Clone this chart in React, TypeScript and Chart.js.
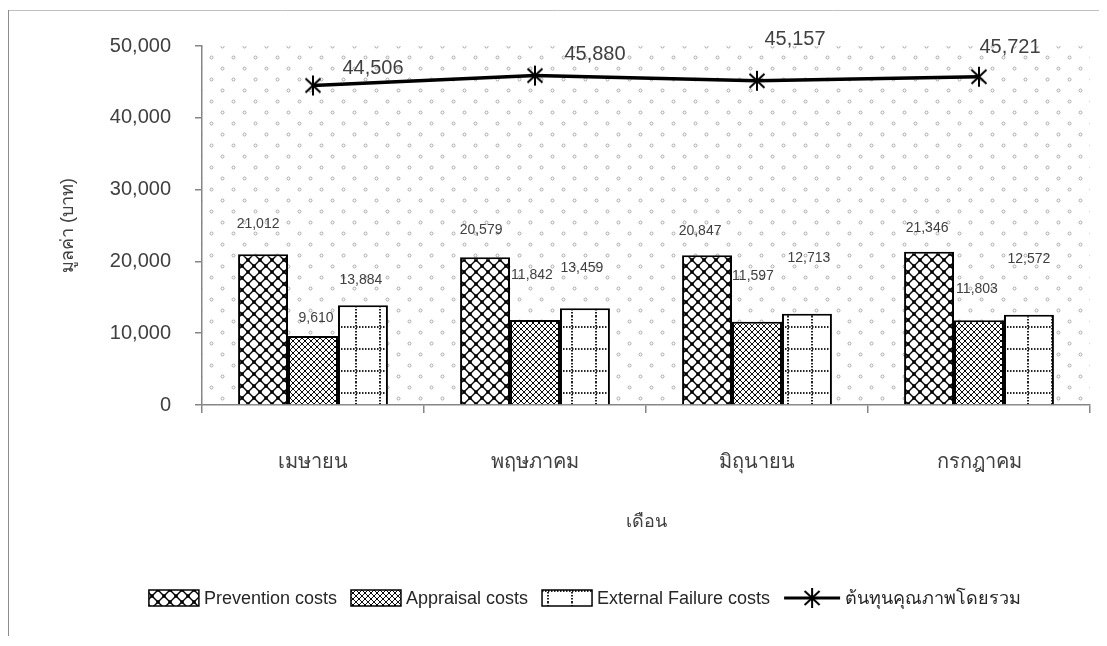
import { useEffect, useRef } from "react";
import { Chart, registerables } from "chart.js";

Chart.register(...registerables);

// Monthly quality costs (บาท)
const months = ["เมษายน", "พฤษภาคม", "มิถุนายน", "กรกฎาคม"];
const preventionCosts = [21012, 20579, 20847, 21346];
const appraisalCosts = [9610, 11842, 11597, 11803];
const externalFailureCosts = [13884, 13459, 12713, 12572];
const totalQualityCost = [44506, 45880, 45157, 45721];
const seriesNames = [
  "Prevention costs",
  "Appraisal costs",
  "External Failure costs",
  "ต้นทุนคุณภาพโดยรวม",
];
const yTicks = [0, 10000, 20000, 30000, 40000, 50000];
const xTitle = "เดือน";
const yTitle = "มูลค่า (บาท)";

// Hand-placed label nudges: [dx, lift] for bar labels, [dx, dy] for line labels
const barLabelNudge = [
  [[-5, 30], [-4, 27], [-7, 24], [-2, 24]],
  [[3, 18], [-3, 45], [-4, 46], [-2, 31]],
  [[-2, 25], [-3, 40], [2, 56], [0, 56]],
];
const lineLabelNudge = [[60, -17], [60, -21], [38, -41], [31, -29]];

const FONT = "'Liberation Sans', Arial, sans-serif";
const TEXT = "#404040";
const AXIS = "#868686";

function tile(w: number, h: number, draw: (g: CanvasRenderingContext2D) => void, bg = "#ffffff") {
  const c = document.createElement("canvas");
  c.width = w;
  c.height = h;
  const g = c.getContext("2d")!;
  if (bg) {
    g.fillStyle = bg;
    g.fillRect(0, 0, w, h);
  }
  draw(g);
  return c;
}

// Large diamond lattice with dots on the crossings
const latticeTile = () =>
  tile(12, 12, (g) => {
    g.strokeStyle = "#000";
    g.lineWidth = 1.4;
    g.beginPath();
    g.moveTo(0, 0);
    g.lineTo(12, 12);
    g.moveTo(12, 0);
    g.lineTo(0, 12);
    g.stroke();
    g.fillStyle = "#000";
    g.fillRect(4.3, 4.3, 3.4, 3.4);
    for (const [x, y] of [[0, 0], [12, 0], [0, 12], [12, 12]]) g.fillRect(x - 1.7, y - 1.7, 3.4, 3.4);
  });

// Fine diagonal check
const checkTile = () =>
  tile(6, 6, (g) => {
    g.strokeStyle = "#111";
    g.lineWidth = 1;
    g.beginPath();
    g.moveTo(0, 0);
    g.lineTo(6, 6);
    g.moveTo(6, 0);
    g.lineTo(0, 6);
    g.stroke();
    g.fillStyle = "#000";
    g.fillRect(2.2, 2.2, 1.6, 1.6);
  });

// Dotted grid
const dottedGridTile = () =>
  tile(24, 22, (g) => {
    g.fillStyle = "#222";
    for (let y = 0; y < 22; y += 3) g.fillRect(11, y, 2, 1.5);
    for (let x = 0; x < 24; x += 3) g.fillRect(x, 10, 1.5, 2);
  });

// Speckled plot background
const speckleTile = () =>
  tile(
    22,
    22,
    (g) => {
      g.strokeStyle = "#a8a8a8";
      g.lineWidth = 1;
      for (const [x, y] of [[5.5, 5.5], [16.5, 16.5]]) {
        g.beginPath();
        g.arc(x, y, 1.5, 0, Math.PI * 2);
        g.stroke();
      }
    },
    ""
  );

// Six-armed asterisk marker
const asteriskMarker = () =>
  tile(
    22,
    22,
    (g) => {
      g.strokeStyle = "#000";
      g.lineWidth = 2;
      g.lineCap = "butt";
      g.beginPath();
      g.moveTo(3.5, 4);
      g.lineTo(18.5, 18);
      g.moveTo(18.5, 4);
      g.lineTo(3.5, 18);
      g.moveTo(11, 1);
      g.lineTo(11, 21);
      g.stroke();
    },
    ""
  );

const fmt = (v: number) => v.toLocaleString("en-US");

export default function App() {
  const ref = useRef<HTMLCanvasElement>(null);

  useEffect(() => {
    const canvas = ref.current!;
    const ctx = canvas.getContext("2d")!;
    const fills = [latticeTile(), checkTile(), dottedGridTile()].map(
      (t) => ctx.createPattern(t, "repeat")!
    );
    const speckle = ctx.createPattern(speckleTile(), "repeat")!;
    const marker = asteriskMarker();

    const framePlugin = {
      id: "frame",
      beforeDraw(chart: any) {
        const c = chart.ctx;
        c.save();
        c.fillStyle = "#fff";
        c.fillRect(0, 0, chart.width, chart.height);
        c.strokeStyle = "#c0c0c0";
        c.lineWidth = 1;
        c.beginPath();
        c.moveTo(0, 2.5);
        c.lineTo(chart.width, 2.5);
        c.stroke();
        c.strokeStyle = "#8c8c8c";
        c.beginPath();
        c.moveTo(0.5, 2);
        c.lineTo(0.5, chart.height - 2);
        c.stroke();
        c.restore();
      },
      beforeDatasetsDraw(chart: any) {
        const { left, top, right, bottom } = chart.chartArea;
        const c = chart.ctx;
        c.save();
        c.fillStyle = speckle;
        c.fillRect(left, top, right - left, bottom - top);
        c.restore();
      },
    };

    const labelPlugin = {
      id: "valueLabels",
      afterDatasetsDraw(chart: any) {
        const c = chart.ctx;
        c.save();
        c.textAlign = "center";
        c.textBaseline = "middle";
        c.fillStyle = TEXT;
        for (let d = 0; d < 3; d++) {
          const meta = chart.getDatasetMeta(d);
          c.font = `14px ${FONT}`;
          meta.data.forEach((el: any, i: number) => {
            const [dx, lift] = barLabelNudge[d][i];
            c.fillText(fmt(chart.data.datasets[d].data[i]), el.x + dx, el.y - lift);
          });
        }
        const lineMeta = chart.getDatasetMeta(3);
        c.font = `20px ${FONT}`;
        lineMeta.data.forEach((el: any, i: number) => {
          const [dx, dy] = lineLabelNudge[i];
          c.fillText(fmt(totalQualityCost[i]), el.x + dx, el.y + dy);
        });
        c.restore();
      },
    };

    const legendPlugin = {
      id: "bottomLegend",
      afterDraw(chart: any) {
        const c = chart.ctx;
        c.save();
        c.font = `18px ${FONT}`;
        c.textBaseline = "middle";
        c.textAlign = "left";
        const swatchW = 50;
        const lineW = 56;
        const gapIn = 5;
        const gapOut = 14;
        const widths = seriesNames.map(
          (n, i) => (i < 3 ? swatchW : lineW) + gapIn + c.measureText(n).width
        );
        const total = widths.reduce((a, b) => a + b, 0) + gapOut * (widths.length - 1);
        let x = 577 - total / 2;
        const y = 590;
        seriesNames.forEach((name, i) => {
          if (i < 3) {
            c.fillStyle = fills[i];
            c.fillRect(x, y - 8, swatchW, 16);
            c.strokeStyle = "#000";
            c.lineWidth = 1.5;
            c.strokeRect(x, y - 8, swatchW, 16);
            x += swatchW + gapIn;
          } else {
            c.strokeStyle = "#000";
            c.lineWidth = 3;
            c.beginPath();
            c.moveTo(x, y);
            c.lineTo(x + lineW, y);
            c.stroke();
            c.drawImage(marker, x + lineW / 2 - 11, y - 11);
            x += lineW + gapIn;
          }
          c.fillStyle = "#262626";
          c.fillText(name, x, y + 1);
          x += c.measureText(name).width + gapOut;
        });
        c.restore();
      },
    };

    const chart = new Chart(canvas, {
      type: "bar",
      data: {
        labels: months,
        datasets: [
          {
            label: seriesNames[0],
            data: preventionCosts,
            backgroundColor: fills[0],
            borderColor: "#000",
            borderWidth: 2,
            order: 1,
          },
          {
            label: seriesNames[1],
            data: appraisalCosts,
            backgroundColor: fills[1],
            borderColor: "#000",
            borderWidth: 2,
            order: 1,
          },
          {
            label: seriesNames[2],
            data: externalFailureCosts,
            backgroundColor: fills[2],
            borderColor: "#000",
            borderWidth: 2,
            order: 1,
          },
          {
            type: "line",
            label: seriesNames[3],
            data: totalQualityCost,
            borderColor: "#000",
            backgroundColor: "#000",
            borderWidth: 3.5,
            pointStyle: marker as any,
            pointRadius: 10,
            tension: 0,
            order: 0,
          } as any,
        ],
      },
      options: {
        animation: false,
        responsive: true,
        maintainAspectRatio: false,
        events: [],
        layout: { padding: { top: 38, right: 17, left: 0, bottom: 0 } },
        datasets: {
          bar: { categoryPercentage: 0.675, barPercentage: 1 },
        },
        plugins: {
          legend: { display: false },
          tooltip: { enabled: false },
        },
        scales: {
          x: {
            grid: {
              drawOnChartArea: false,
              drawTicks: true,
              tickLength: 8,
              color: AXIS,
              lineWidth: 1.5,
            },
            border: { color: AXIS, width: 1.5 },
            ticks: {
              color: TEXT,
              font: { family: FONT, size: 20 },
              padding: 37,
              maxRotation: 0,
            },
            title: {
              display: true,
              text: xTitle,
              color: TEXT,
              font: { family: FONT, size: 18 },
              padding: { top: 0, bottom: 105 },
            },
            afterFit: (s: any) => {
              s.height = 233;
            },
          },
          y: {
            min: 0,
            max: 50000,
            afterBuildTicks: (s: any) => {
              s.ticks = yTicks.map((v) => ({ value: v }));
            },
            grid: {
              drawOnChartArea: false,
              drawTicks: true,
              tickLength: 7,
              color: AXIS,
              lineWidth: 1.5,
            },
            border: { color: AXIS, width: 1.5 },
            ticks: {
              color: TEXT,
              font: { family: FONT, size: 20 },
              padding: 24,
              callback: (v: any) => fmt(Number(v)),
            },
            title: {
              display: true,
              text: yTitle,
              color: TEXT,
              font: { family: FONT, size: 18 },
              padding: { top: 49, bottom: 0 },
            },
            afterFit: (s: any) => {
              s.width = 194;
            },
          },
        },
      },
      plugins: [framePlugin, labelPlugin, legendPlugin],
    });

    return () => chart.destroy();
  }, []);

  return (
    <div style={{ position: "relative", width: 1099, height: 630 }}>
      <canvas ref={ref} />
    </div>
  );
}
